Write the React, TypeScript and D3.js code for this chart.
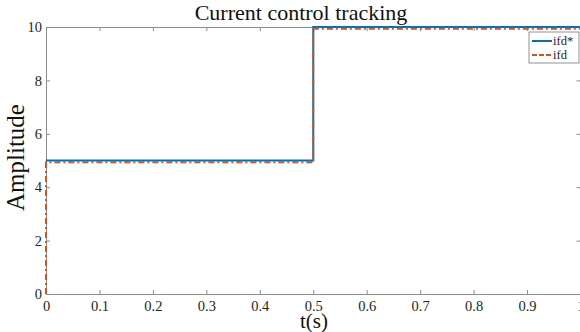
import React, {useEffect, useRef} from "react";
import * as d3 from "d3";

interface Pt {
    t: number;
    v: number;
}

const refSeries: Pt[] = [
    {t: 0, v: 5}, {t: 0.5, v: 5}, {t: 0.5, v: 10}, {t: 1, v: 10},
];
const measSeries: Pt[] = [
    {t: 0, v: 0}, {t: 0, v: 4.93}, {t: 0.5, v: 4.93}, {t: 0.5, v: 9.93}, {t: 1, v: 9.93},
];
const xTicks = [0, 0.1, 0.2, 0.3, 0.4, 0.5, 0.6, 0.7, 0.8, 0.9, 1];
const yTicks = [0, 2, 4, 6, 8, 10];
const legendNames = ["ifd*", "ifd"];

const width = 580;
const height = 332;
const margin = {top: 27, right: -0.5, bottom: 38, left: 46};
const font = "'Liberation Serif', 'Times New Roman', serif";
const axisColor = "#8c8c8c";

const App: React.FC = () => {
    const gRef = useRef<SVGGElement | null>(null);

    useEffect(() => {
        const g = d3.select(gRef.current);
        g.selectAll("*").remove();

        const innerW = width - margin.left - margin.right;
        const innerH = height - margin.top - margin.bottom;

        const x = d3.scaleLinear().domain([0, 1]).range([0, innerW]);
        const y = d3.scaleLinear().domain([0, 10]).range([innerH, 0]);

        // box + inward ticks
        const bottom = d3.axisBottom(x).tickValues(xTicks).tickSizeInner(-4).tickSizeOuter(0)
            .tickFormat(d => d3.format("")(d as number));
        const top = d3.axisTop(x).tickValues(xTicks).tickSizeInner(-4).tickSizeOuter(0).tickFormat(() => "");
        const left = d3.axisLeft(y).tickValues(yTicks).tickSizeInner(-4).tickSizeOuter(0);
        const right = d3.axisRight(y).tickValues(yTicks).tickSizeInner(-4).tickSizeOuter(0).tickFormat(() => "");

        const styleAxis = (sel: d3.Selection<SVGGElement, unknown, null, undefined>) => {
            sel.select(".domain").attr("stroke", axisColor).attr("stroke-width", 1);
            sel.selectAll(".tick line").attr("stroke", axisColor);
            sel.selectAll("text").attr("fill", "#262626").style("font-family", font).style("font-size", "14.5px");
        };

        const gx = g.append("g").attr("transform", `translate(0,${innerH})`).call(bottom);
        gx.selectAll("text").attr("y", 0).attr("dy", "1.15em");
        styleAxis(gx as any);
        styleAxis(g.append("g").call(top) as any);
        const gy = g.append("g").call(left);
        gy.selectAll("text").attr("x", -4);
        styleAxis(gy as any);
        styleAxis(g.append("g").attr("transform", `translate(${innerW},0)`).call(right) as any);

        const line = d3.line<Pt>().x(d => x(d.t)).y(d => y(d.v));

        g.append("path").datum(refSeries)
            .attr("fill", "none").attr("stroke", "#0072BD").attr("stroke-width", 2)
            .attr("d", line);
        g.append("path").datum(measSeries)
            .attr("fill", "none").attr("stroke", "#D95319").attr("stroke-width", 2)
            .attr("stroke-dasharray", "6,3,2,3")
            .attr("d", line);

        // title / labels
        const svg = g.append("g").attr("transform", `translate(${-margin.left},${-margin.top})`);
        svg.append("text").attr("x", 301).attr("y", 20).attr("text-anchor", "middle")
            .style("font-family", font).style("font-size", "22px").attr("fill", "#111")
            .text("Current control tracking");
        svg.append("text").attr("transform", `translate(24,${margin.top + innerH / 2 - 3}) rotate(-90)`)
            .attr("text-anchor", "middle")
            .style("font-family", font).style("font-size", "25px").attr("fill", "#111")
            .text("Amplitude");
        svg.append("text").attr("x", 314).attr("y", 328).attr("text-anchor", "middle")
            .style("font-family", font).style("font-size", "21px").attr("fill", "#111")
            .text("t(s)");

        // legend
        const lg = svg.append("g").attr("transform", "translate(529,32)");
        lg.append("rect").attr("width", 50).attr("height", 31)
            .attr("fill", "white").attr("stroke", "#777").attr("stroke-width", 0.8);
        legendNames.forEach((name, i) => {
            const yy = 9 + i * 14;
            lg.append("line").attr("x1", 3).attr("x2", 23).attr("y1", yy).attr("y2", yy)
                .attr("stroke", i === 0 ? "#0072BD" : "#D95319").attr("stroke-width", 2)
                .attr("stroke-dasharray", i === 0 ? null : "5,2");
            lg.append("text").attr("x", 24).attr("y", yy + 4)
                .style("font-family", font).style("font-size", "12.5px").attr("fill", "#262626")
                .text(name);
        });
    }, []);

    return (
        <svg width={width} height={height} style={{position: "fixed", left: 0, top: 0, background: "white"}}>
            <g ref={gRef} transform={`translate(${margin.left},${margin.top})`}></g>
        </svg>
    );
};

export default App;
